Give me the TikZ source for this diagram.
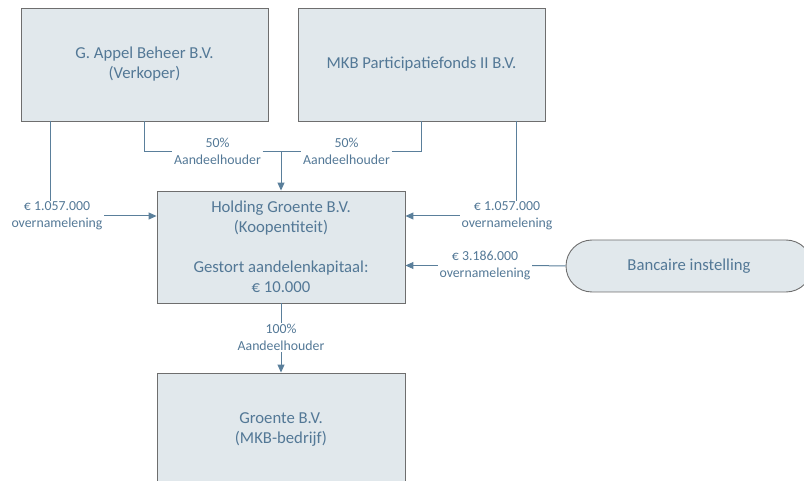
\documentclass[tikz,border=0pt]{standalone}
\usepackage{fontspec}
\setmainfont{Carlito}
\usetikzlibrary{arrows.meta}
\definecolor{txt}{HTML}{537896}
\definecolor{boxfill}{HTML}{E1E8EC}
\definecolor{boxline}{HTML}{6E6E6E}
\definecolor{conn}{HTML}{5A7F9B}
\tikzset{
  entity/.style={draw=boxline, fill=boxfill, line width=0.9pt, text=txt, align=center,
    font=\fontsize{16.7}{20}\selectfont, inner sep=0pt},
  lab/.style={text=txt, align=center, font=\fontsize{13.8}{17}\selectfont, inner xsep=1.5pt, inner ysep=1pt},
  line/.style={draw=conn, line width=1pt},
  arr/.style={line, -{Triangle[length=8pt,width=7pt]}},
}
\begin{document}
\begin{tikzpicture}[x=1pt,y=-1pt]
\useasboundingbox (0,0) rectangle (804,481);
\clip (0,0) rectangle (804,481);
% boxes
\node[entity, minimum width=247pt, minimum height=113pt] (A) at (144.5,64.5) {G. Appel Beheer B.V.\\(Verkoper)};
\node[entity, minimum width=247pt, minimum height=113pt] (B) at (421.5,64.5) {MKB Participatiefonds II B.V.};
\node[entity, minimum width=248pt, minimum height=112pt] (H) at (281,247) {Holding Groente B.V.\\(Koopentiteit)\\[20pt]Gestort aandelenkapitaal:\\€ 10.000};
\node[entity, minimum width=248pt, minimum height=114pt] (G) at (281,430) {Groente B.V.\\(MKB-bedrijf)};
\node[entity, rounded corners=26pt, minimum width=246pt, minimum height=52pt] (K) at (689,266) {Bancaire instelling};
% labels
\node[lab] (l1) at (217.5,151.5) {50\%\\Aandeelhouder};
\node[lab] (l2) at (346.5,151.5) {50\%\\Aandeelhouder};
\node[lab] (l3) at (57,216) {€ 1.057.000\\overnamelening};
\node[lab] (l4) at (507,216) {€ 1.057.000\\overnamelening};
\node[lab] (l5) at (485,265.5) {€ 3.186.000\\overnamelening};
\node[lab] (l6) at (281,337.5) {100\%\\Aandeelhouder};
% shareholder connectors
\draw[line] (A.south) |- (l1.west);
\draw[line] (l1.east) -- (l2.west);
\draw[line] (l2.east) -| (B.south);
\coordinate (j) at (H.north |- l1.west);
\draw[arr] (j) -- (H.north);
% loans
\coordinate (a1) at (50,121);
\draw[line] (a1) -- (a1 |- l3.north);
\draw[arr] (l3.east) -- (l3.east -| H.west);
\coordinate (b1) at (516,121);
\draw[line] (b1) -- (b1 |- l4.north);
\draw[arr] (l4.west) -- (l4.west -| H.east);
\draw[line] (K.west) -- (l5.east);
\draw[arr] (l5.west) -- (l5.west -| H.east);
% holding to groente
\draw[line] (H.south) -- (l6.north);
\draw[arr] (l6.south) -- (G.north);
\end{tikzpicture}
\end{document}
